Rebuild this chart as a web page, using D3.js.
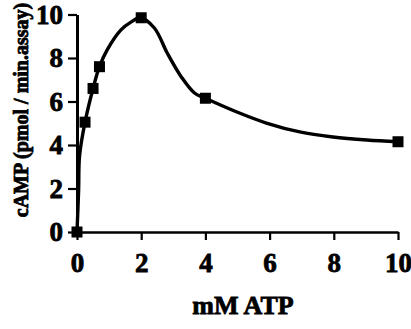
<!DOCTYPE html>
<html>
<head>
<meta charset="utf-8">
<script src="https://d3js.org/d3.v7.min.js"></script>
<style>
body { margin: 0; background: #fff; }
</style>
</head>
<body>
<svg width="411" height="329"></svg>
<script>
// measured points (mM ATP, cAMP)
var atp = [0, 0.25, 0.5, 0.7, 2, 4, 10];
var camp = [0, 5.05, 6.6, 7.6, 9.85, 6.15, 4.15];

// fitted curve
var curveX = [0, 0.05, 0.08, 0.25, 0.5, 0.7, 0.94, 1.37, 1.69, 1.97, 2.41, 2.81, 3.25, 3.66, 4, 5.06, 5.9, 6.94, 7.97, 9.03, 10];
var curveY = [0, 1.9, 3.5, 5.05, 6.6, 7.6, 8.37, 9.29, 9.66, 9.85, 9.38, 8.23, 7.13, 6.39, 6.15, 5.47, 5.01, 4.6, 4.37, 4.23, 4.15];

var xTicks = [0, 2, 4, 6, 8, 10];
var yTicks = [0, 2, 4, 6, 8, 10];

var FONT = "'Liberation Serif', 'Times New Roman', Times, serif";

var svg = d3.select("svg");

var x = d3.scaleLinear().domain([0, 10]).range([77, 398]);
var y = d3.scaleLinear().domain([0, 10]).range([232, 14.5]);

// heavy "printed" look for text
function ink(sel, size) {
	sel.style("font-family", FONT).style("font-weight", "bold").style("font-size", size)
		.attr("fill", "#000").attr("stroke", "#000").attr("stroke-width", 0.8);
}

// x axis
var xa = svg.append("g")
	.attr("transform", "translate(0," + y(0) + ")")
	.call(d3.axisBottom(x).tickValues(xTicks).tickSize(8).tickSizeOuter(0).tickPadding(12));
xa.select(".domain").attr("stroke-width", 2.6);
xa.selectAll("line").attr("stroke-width", 2.2);
xa.selectAll("text").call(ink, "27px").attr("dy", "0.75em");

// y axis
var ya = svg.append("g")
	.attr("transform", "translate(" + x(0) + ",0)")
	.call(d3.axisLeft(y).tickValues(yTicks).tickSize(9).tickSizeOuter(0).tickPadding(5));
ya.select(".domain").attr("stroke-width", 3);
ya.selectAll("line").attr("stroke-width", 2.2);
ya.selectAll("text").call(ink, "27px").attr("dy", "0.33em");

// curve
var pts = curveX.map(function(d, i) { return [d, curveY[i]]; });
var line = d3.line()
	.x(function(d) { return x(d[0]); })
	.y(function(d) { return y(d[1]); })
	.curve(d3.curveCatmullRom);

svg.append("path")
	.attr("d", line(pts))
	.attr("fill", "none")
	.attr("stroke", "#000")
	.attr("stroke-width", 3.4);

// markers
svg.selectAll(".dot")
	.data(atp)
	.enter().append("rect")
	.attr("class", "dot")
	.attr("x", function(d) { return x(d) - 5.5; })
	.attr("y", function(d, i) { return y(camp[i]) - 5.5; })
	.attr("width", 11)
	.attr("height", 11)
	.attr("fill", "#000");

// labels
svg.append("text")
	.attr("x", 243)
	.attr("y", 314)
	.attr("text-anchor", "middle")
	.call(ink, "26px")
	.text("mM ATP");

svg.append("text")
	.attr("transform", "translate(28,110) rotate(-90)")
	.attr("text-anchor", "middle")
	.call(ink, "20px")
	.text("cAMP (pmol / min.assay)");
</script>
</body>
</html>
